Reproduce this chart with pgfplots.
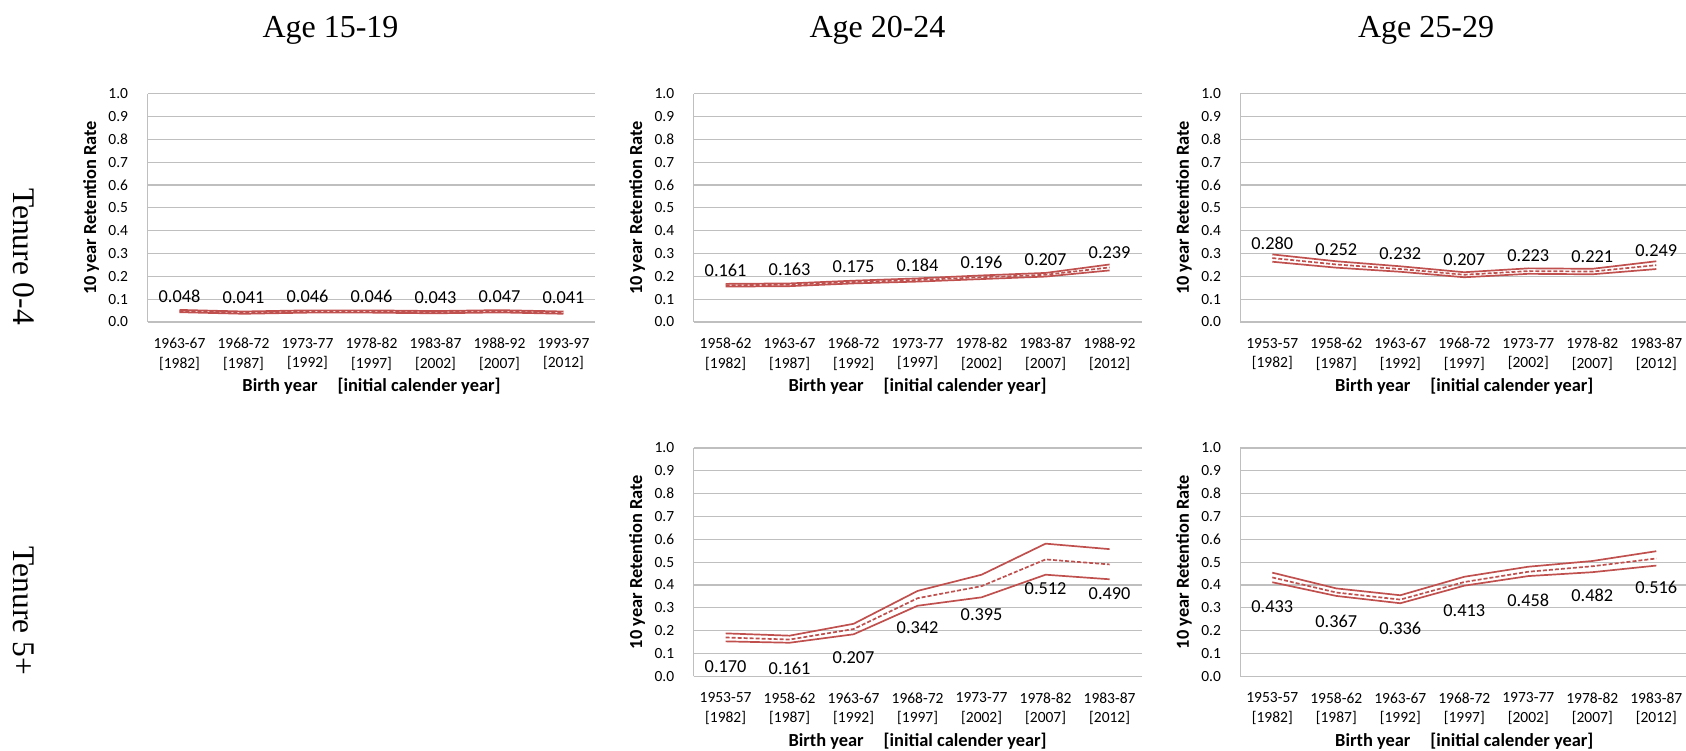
\documentclass[border=0pt]{standalone}
\usepackage{pgfplots}
\pgfplotsset{compat=1.18}
\usepackage{fontspec}
\setmainfont{Carlito}
\newfontfamily\headfont{Liberation Serif}

\definecolor{seriesred}{HTML}{C0504D}
\definecolor{gridgray}{HTML}{BFBFBF}

% one panel: plot area 224pt x 114.15pt, seven categories
\pgfplotsset{
  /pgf/number format/assume math mode=true,
  retention/.style={
    scale only axis,
    width=224pt, height=114.15pt,
    anchor=south west,
    xmin=-0.5, xmax=6.5,
    ymin=0, ymax=1,
    xtick={0,...,6},
    ytick={0,0.1,...,1.0},
    axis x line*=bottom, axis y line*=left,
    axis line style={-, draw=gridgray, line width=0.6pt},
    major tick length=0pt,
    ymajorgrids,
    grid style={draw=gridgray, line width=0.6pt},
    yticklabel style={
      font=\fontsize{7.75pt}{9.3pt}\selectfont,
      inner sep=0pt, anchor=east, xshift=-9.5pt,
      /pgf/number format/fixed, /pgf/number format/fixed zerofill,
      /pgf/number format/precision=1},
    xticklabel style={
      font=\fontsize{7.75pt}{9.65pt}\selectfont,
      align=center, inner sep=0pt, anchor=north, yshift=-8pt},
    ylabel={10 year Retention Rate},
    ylabel style={at={(axis description cs:-0.1261,0.5)}, anchor=center,
      font=\fontsize{9.2pt}{11pt}\selectfont\bfseries},
    xlabel={Birth year\hspace{10pt}[initial calender year]},
    xlabel style={at={(axis description cs:0.5,-0.2825)}, anchor=center,
      font=\fontsize{9.2pt}{11pt}\selectfont\bfseries},
    clip=false,
  },
  bound/.style={seriesred, line width=0.85pt, mark=none},
  estimate/.style={seriesred, line width=0.85pt, mark=none,
    dash pattern=on 2pt off 1pt,
    nodes near coords,
    point meta=y,
    nodes near coords style={
      /pgf/number format/fixed, /pgf/number format/fixed zerofill,
      /pgf/number format/precision=3},
  },
  labelabove/.style={every node near coord/.append style={
      anchor=center, inner sep=0pt, yshift=7.5pt, text=black, solid,
      font=\fontsize{9.15pt}{11pt}\selectfont}},
  labelbelow/.style={every node near coord/.append style={
      anchor=center, inner sep=0pt, yshift=-14.5pt, text=black, solid,
      font=\fontsize{9.15pt}{11pt}\selectfont}},
}

\begin{document}
\begin{tikzpicture}
\clip (0,0) rectangle (843pt,375pt);

% column and row headings
\node[anchor=base, font=\headfont\fontsize{16pt}{19pt}\selectfont] at (165.25pt,356.35pt) {Age 15-19};
\node[anchor=base, font=\headfont\fontsize{16pt}{19pt}\selectfont] at (438.75pt,356.35pt) {Age 20-24};
\node[anchor=base, font=\headfont\fontsize{16pt}{19pt}\selectfont] at (713pt,356.35pt) {Age 25-29};
\node[rotate=-90, anchor=center, font=\headfont\fontsize{15.75pt}{19pt}\selectfont] at (12pt,246.75pt) {Tenure 0-4};
\node[rotate=-90, anchor=center, font=\headfont\fontsize{15.75pt}{19pt}\selectfont] at (12pt,69.5pt) {Tenure 5+};

% Age 15-19, tenure 0-4
\begin{axis}[retention, at={(73.75pt,214pt)},
  xticklabels={{1963-67\\{}[1982]},{1968-72\\{}[1987]},{1973-77\\{}[1992]},
    {1978-82\\{}[1997]},{1983-87\\{}[2002]},{1988-92\\{}[2007]},{1993-97\\{}[2012]}}]
\addplot[bound] coordinates {(0,0.053) (1,0.046) (2,0.051) (3,0.051) (4,0.048) (5,0.052) (6,0.046)};
\addplot[bound] coordinates {(0,0.043) (1,0.036) (2,0.041) (3,0.041) (4,0.038) (5,0.042) (6,0.036)};
\addplot[estimate, labelabove] coordinates {(0,0.048) (1,0.041) (2,0.046) (3,0.046) (4,0.043) (5,0.047) (6,0.041)};
\end{axis}

% Age 20-24, tenure 0-4
\begin{axis}[retention, at={(346.8pt,214pt)},
  xticklabels={{1958-62\\{}[1982]},{1963-67\\{}[1987]},{1968-72\\{}[1992]},
    {1973-77\\{}[1997]},{1978-82\\{}[2002]},{1983-87\\{}[2007]},{1988-92\\{}[2012]}}]
\addplot[bound] coordinates {(0,0.167) (1,0.169) (2,0.181) (3,0.191) (4,0.204) (5,0.215) (6,0.252)};
\addplot[bound] coordinates {(0,0.155) (1,0.157) (2,0.169) (3,0.177) (4,0.188) (5,0.199) (6,0.226)};
\addplot[estimate, labelabove] coordinates {(0,0.161) (1,0.163) (2,0.175) (3,0.184) (4,0.196) (5,0.207) (6,0.239)};
\end{axis}

% Age 25-29, tenure 0-4
\begin{axis}[retention, at={(620.15pt,214pt)},
  xticklabels={{1953-57\\{}[1982]},{1958-62\\{}[1987]},{1963-67\\{}[1992]},
    {1968-72\\{}[1997]},{1973-77\\{}[2002]},{1978-82\\{}[2007]},{1983-87\\{}[2012]}}]
\addplot[bound] coordinates {(0,0.296) (1,0.266) (2,0.244) (3,0.218) (4,0.235) (5,0.233) (6,0.266)};
\addplot[bound] coordinates {(0,0.264) (1,0.238) (2,0.220) (3,0.196) (4,0.211) (5,0.209) (6,0.232)};
\addplot[estimate, labelabove] coordinates {(0,0.280) (1,0.252) (2,0.232) (3,0.207) (4,0.223) (5,0.221) (6,0.249)};
\end{axis}

% Age 20-24, tenure 5+
\begin{axis}[retention, at={(346.8pt,36.85pt)},
  xticklabels={{1953-57\\{}[1982]},{1958-62\\{}[1987]},{1963-67\\{}[1992]},
    {1968-72\\{}[1997]},{1973-77\\{}[2002]},{1978-82\\{}[2007]},{1983-87\\{}[2012]}}]
\addplot[bound] coordinates {(0,0.188) (1,0.178) (2,0.230) (3,0.374) (4,0.445) (5,0.581) (6,0.557)};
\addplot[bound] coordinates {(0,0.153) (1,0.147) (2,0.184) (3,0.309) (4,0.346) (5,0.445) (6,0.425)};
\addplot[estimate, labelbelow] coordinates {(0,0.170) (1,0.161) (2,0.207) (3,0.342) (4,0.395) (5,0.512) (6,0.490)};
\end{axis}

% Age 25-29, tenure 5+
\begin{axis}[retention, at={(620.15pt,36.85pt)},
  xticklabels={{1953-57\\{}[1982]},{1958-62\\{}[1987]},{1963-67\\{}[1992]},
    {1968-72\\{}[1997]},{1973-77\\{}[2002]},{1978-82\\{}[2007]},{1983-87\\{}[2012]}}]
\addplot[bound] coordinates {(0,0.454) (1,0.385) (2,0.355) (3,0.436) (4,0.480) (5,0.505) (6,0.548)};
\addplot[bound] coordinates {(0,0.412) (1,0.352) (2,0.320) (3,0.397) (4,0.439) (5,0.456) (6,0.485)};
\addplot[estimate, labelbelow] coordinates {(0,0.433) (1,0.367) (2,0.336) (3,0.413) (4,0.458) (5,0.482) (6,0.516)};
\end{axis}
\end{tikzpicture}
\end{document}
